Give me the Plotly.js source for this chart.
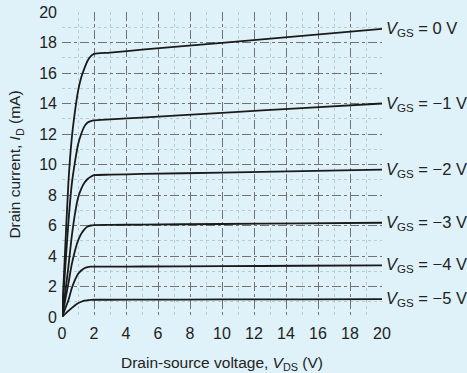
<!DOCTYPE html>
<html><head><meta charset="utf-8">
<script src="https://cdn.plot.ly/plotly-3.0.1.min.js"></script>
<style>html,body{margin:0;padding:0;background:#dff1f9;}#c{width:467px;height:373px;}</style>
</head><body><div id="c"></div>
<script>
const vds = [0, 0.2, 0.4, 0.6, 0.8, 1.0, 1.2, 1.4, 1.6, 1.8, 2.0, 3, 5, 10, 15, 20];
const id_0V  = [0, 4.5, 8.8, 11.6, 13.4, 14.8, 15.7, 16.3, 16.8, 17.1, 17.25, 17.34, 17.53, 17.98, 18.44, 18.9];
const id_m1V = [0, 3.2, 6.2, 8.6, 10.1, 11.3, 12.0, 12.5, 12.75, 12.85, 12.9, 12.96, 13.08, 13.39, 13.7, 14.0];
const id_m2V = [0, 1.6, 3.3, 5.2, 6.7, 7.8, 8.4, 8.8, 9.05, 9.2, 9.3, 9.33, 9.38, 9.47, 9.57, 9.67];
const id_m3V = [0, 1.1, 2.2, 3.4, 4.3, 5.0, 5.45, 5.75, 5.93, 6.0, 6.03, 6.04, 6.06, 6.1, 6.14, 6.18];
const id_m4V = [0, 0.55, 1.1, 1.85, 2.4, 2.82, 3.05, 3.2, 3.27, 3.3, 3.3, 3.3, 3.31, 3.33, 3.36, 3.38];
const id_m5V = [0, 0.2, 0.4, 0.58, 0.75, 0.9, 1.0, 1.07, 1.1, 1.12, 1.13, 1.13, 1.14, 1.15, 1.16, 1.17];
const series = [id_0V, id_m1V, id_m2V, id_m3V, id_m4V, id_m5V];
const labels = ['0', '\u22121', '\u22122', '\u22123', '\u22124', '\u22125'];
const xTicks = [0, 2, 4, 6, 8, 10, 12, 14, 16, 18, 20];
const yTicks = [0, 2, 4, 6, 8, 10, 12, 14, 16, 18, 20];

const fam = 'Liberation Sans, Arial, sans-serif';
const tickFont = {family: fam, size: 16, color: '#222'};
const titleFont = {family: fam, size: 15.5, color: '#222'};
const annFont = {family: fam, size: 16.5, color: '#222'};
const traces = series.map((ys, i) => ({
  x: vds, y: ys, type: 'scatter', mode: 'lines',
  line: {color: '#1a1a1a', width: 1.8, shape: 'spline', smoothing: 0.6},
  hoverinfo: 'skip', showlegend: false, cliponaxis: false
}));
const annotations = series.map((ys, i) => ({
  x: 20, y: ys[ys.length - 1], xref: 'x', yref: 'y',
  text: '<i>V</i><sub>GS</sub> = ' + labels[i] + ' V',
  showarrow: false, xanchor: 'left', yanchor: 'middle', xshift: 2,
  font: annFont
}));
const gridCommon = {
  showgrid: true, gridcolor: '#727272', gridwidth: 1, griddash: 'dashdot',
  minor: {dtick: 1, showgrid: true, gridcolor: '#bccad0', gridwidth: 1, griddash: 'dot'},
  zeroline: false, showline: false, ticks: '', tickfont: tickFont, range: [0, 20]
};
const layout = {
  width: 467, height: 373,
  margin: {l: 62, r: 85, t: 12, b: 56},
  paper_bgcolor: '#dff1f9', plot_bgcolor: '#dff1f9',
  font: titleFont,
  xaxis: Object.assign({}, gridCommon, {
    tickvals: xTicks, ticklabelstandoff: 5,
    title: {text: 'Drain-source voltage, <i>V</i><sub>DS</sub> (V)', font: titleFont, standoff: 17}
  }),
  yaxis: Object.assign({}, gridCommon, {
    tickvals: yTicks, ticklabelstandoff: 4,
    title: {text: 'Drain current, <i>I</i><sub>D</sub> (mA)', font: titleFont, standoff: 14}
  }),
  annotations: annotations
};
Plotly.newPlot('c', traces, layout, {staticPlot: true, displayModeBar: false});
</script>
</body></html>
